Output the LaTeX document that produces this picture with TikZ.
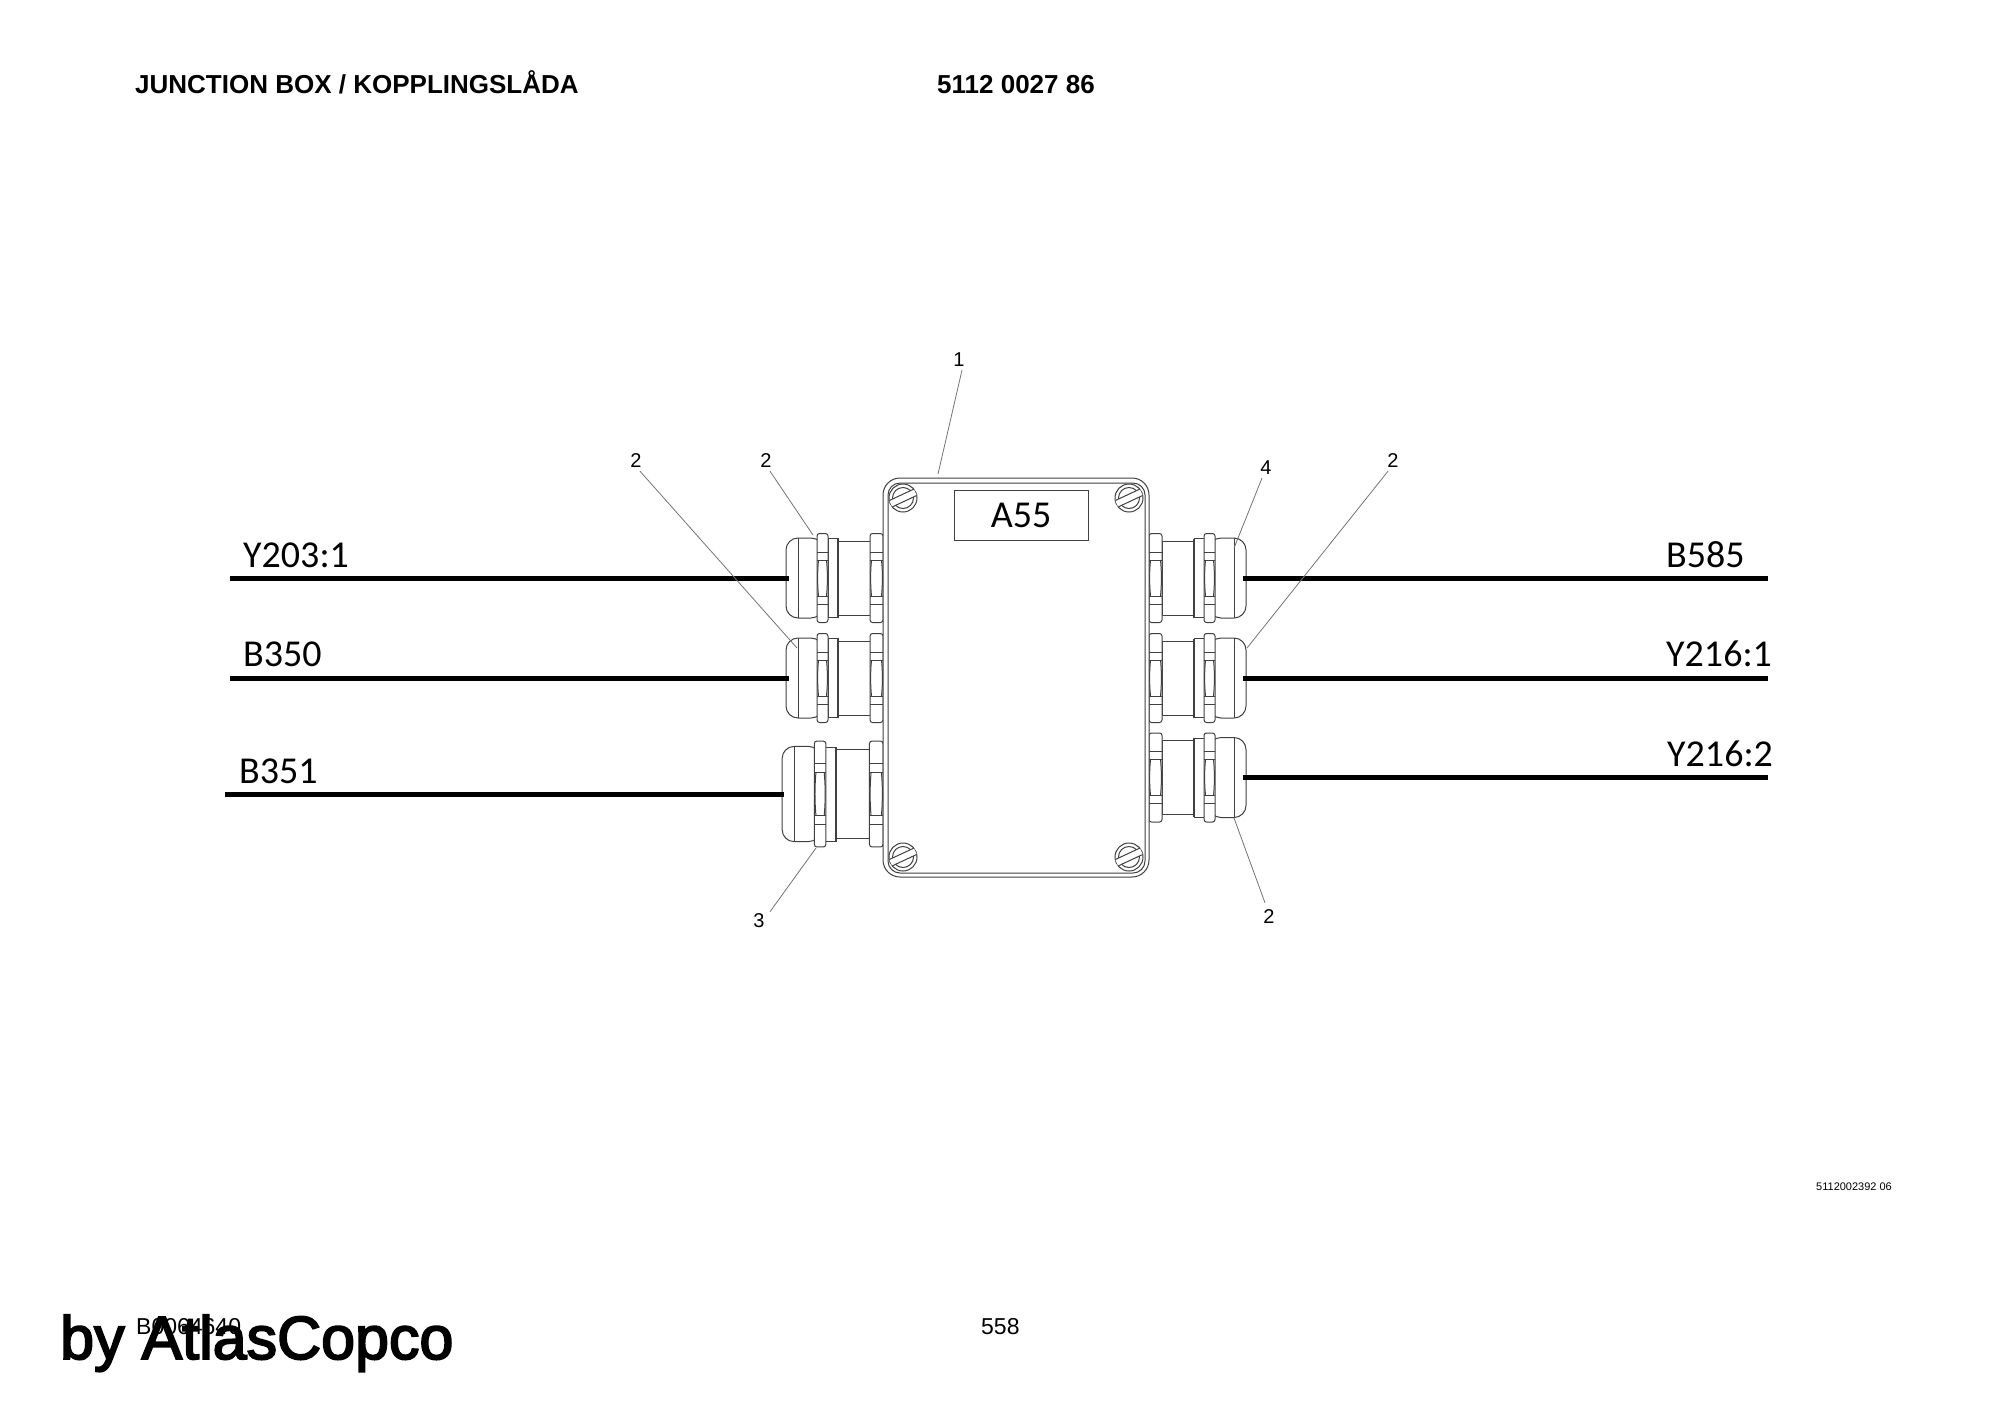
\documentclass[tikz,border=0pt]{standalone}
\usepackage{fontspec}
\setmainfont{Liberation Sans}
\newfontfamily\tagfont{Carlito}
\newfontfamily\byfont[RawFeature={embolden=3}]{Liberation Sans}
\tikzstyle{outline}=[draw=black!75, line width=1pt, fill=white]
\tikzstyle{thin}=[draw=black!75, line width=1pt]
\tikzstyle{wire}=[draw=black, line width=5pt]
\tikzstyle{leader}=[draw=black!55, line width=0.8pt]
\tikzstyle{num}=[font=\fontsize{20}{20}\selectfont, inner sep=0pt]
\tikzstyle{tag}=[font=\tagfont\fontsize{38}{38}\selectfont, inner sep=0pt, anchor=base west]
\tikzstyle{head}=[font=\bfseries\fontsize{26}{26}\selectfont, inner sep=0pt, anchor=base west]
\tikzstyle{foot}=[font=\fontsize{23}{23}\selectfont, inner sep=0pt, anchor=base west]
\newcommand{\glandnut}[2]{
    \draw[outline, rounded corners=2.5pt] (#1,-44.5) rectangle (#2,44.5);
    \draw[thin] (#1,-26)--(#2,-26) (#1,-18)--(#2,-18) (#1,18)--(#2,18) (#1,26)--(#2,26);
    \draw[thin] (#1+1.5,-18) .. controls (#1+0.3,-6) and (#1+0.3,6) .. (#1+1.5,18);
    \draw[thin] (#2-1.5,-18) .. controls (#2-0.3,-6) and (#2-0.3,6) .. (#2-1.5,18);
}
\tikzset{
    gland/.pic={
        % neck, then the ring, the cap and the two nuts on top of it
        \draw[outline] (13,-37) rectangle (45,37);
        \draw[outline] (45,-39.5) rectangle (55,39.5);
        \draw[thin, line width=1.8pt] (45,-39.5)--(45,39.5);
        \draw[outline, rounded corners=12pt] (60,-40) -- (97,-40) -- (97,40) -- (60,40) -- cycle;
        \draw[thin] (85,-40)--(85,40);
        \glandnut{0}{13}
        \glandnut{55}{66}
    },
    screw/.pic={
        \draw[outline] (0,0) circle (14);
        \draw[thin] (0,0) circle (10.5);
        \fill[white, rotate=25] (-13.5,-3.5) rectangle (13.5,3.5);
        \draw[thin, rotate=25] (-13.5,-3.5)--(13.5,-3.5) (-13.5,3.5)--(13.5,3.5);
    }
}

\begin{document}
\begin{tikzpicture}[x=1pt, y=-1pt]
    \useasboundingbox (0,0) rectangle (2000,1414);

    % texts round the drawing
    \node[head] (title) at (135,93) {JUNCTION BOX / KOPPLINGSLÅDA};
    \node[head] (partno) at (937,93) {5112 0027 86};
    \node[font=\fontsize{11}{11}\selectfont, inner sep=0, anchor=base west] (drawno) at (1816,1190) {5112002392 06};
    \node[foot] (bookno) at (136,1334) {B0064640};
    \node[foot] (page) at (981,1334) {558};
    \node[font=\byfont\fontsize{61}{61}\selectfont, inner sep=0, anchor=base west] (by) at (60,1359) {by AtlasCopco};

    % glands
    \pic[xscale=-1] at (883,578) {gland};
    \pic[xscale=-1] at (883,678) {gland};
    \pic[xscale=-1.04, yscale=1.19] at (883,794) {gland};
    \pic at (1149,578) {gland};
    \pic at (1149,678) {gland};
    \pic at (1149,777.5) {gland};

    % box
    \node[outline, minimum width=266pt, minimum height=399pt, rounded corners=17pt] (box) at (1016,677.5) {};
    \node[thin, minimum width=257pt, minimum height=390pt, rounded corners=12pt] (lid) at (1016.5,678) {};
    \node[thin, minimum width=134pt, minimum height=50pt] (plate) at (1021,515) {};
    \node[font=\tagfont\fontsize{38}{38}\selectfont, inner sep=0] (a55) at (1021,515) {A55};
    \pic at (903,498) {screw};
    \pic at (1129,498) {screw};
    \pic at (903,857) {screw};
    \pic at (1129,857) {screw};

    % wires
    \coordinate (l1) at (230,578);
    \coordinate (g1) at (789,578);
    \coordinate (l2) at (230,678);
    \coordinate (g2) at (789,678);
    \coordinate (l3) at (225,794);
    \coordinate (g3) at (784,794);
    \coordinate (r1) at (1768,578);
    \coordinate (g4) at (1243,578);
    \coordinate (r2) at (1768,678);
    \coordinate (g5) at (1243,678);
    \coordinate (r3) at (1768,777);
    \coordinate (g6) at (1243,777);
    \draw[wire] (l1)--(g1);
    \draw[wire] (l2)--(g2);
    \draw[wire] (l3)--(g3);
    \draw[wire] (r1)--(g4);
    \draw[wire] (r2)--(g5);
    \draw[wire] (r3)--(g6);
    \node[tag] (y2031) at (243,567) {Y203:1};
    \node[tag] (b350) at (243,666) {B350};
    \node[tag] (b351) at (239,783) {B351};
    \node[tag] (b585) at (1666,567) {B585};
    \node[tag] (y2161) at (1666,666) {Y216:1};
    \node[tag] (y2162) at (1667,766) {Y216:2};

    % item numbers
    \node[num] (n1) at (959,360) {1};
    \node[num] (n2a) at (636,461) {2};
    \node[num] (n2b) at (766,461) {2};
    \node[num] (n3) at (759,921) {3};
    \node[num] (n4) at (1266,468) {4};
    \node[num] (n2c) at (1393,461) {2};
    \node[num] (n2d) at (1269,917) {2};
    \coordinate (p1) at (938,474);
    \coordinate (p2a) at (797,648);
    \coordinate (p2b) at (813,535);
    \coordinate (p3) at (816,848);
    \coordinate (p4) at (1234,548);
    \coordinate (p2c) at (1247,648);
    \coordinate (p2d) at (1234,818);
    \draw[leader] (n1.south)++(3,3)--(p1);
    \draw[leader] (n2a.south)++(4,3)--(p2a);
    \draw[leader] (n2b.south)++(4,3)--(p2b);
    \draw[leader] (n3.north)++(11,-2)--(p3);
    \draw[leader] (n4.south)++(-4,3)--(p4);
    \draw[leader] (n2c.south)++(-5,3)--(p2c);
    \draw[leader] (n2d.north)++(-4,-7)--(p2d);
\end{tikzpicture}
\end{document}
